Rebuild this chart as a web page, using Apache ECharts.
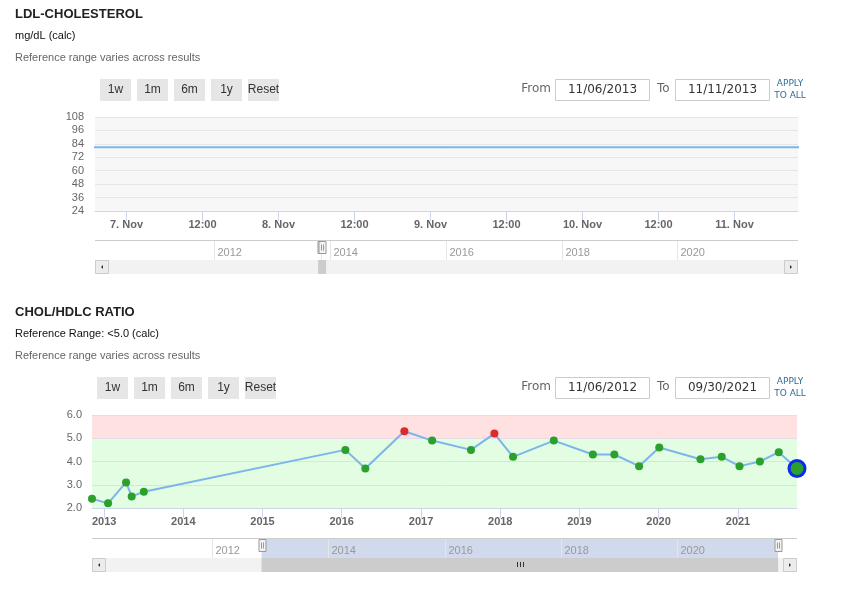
<!DOCTYPE html>
<html>
<head>
<meta charset="utf-8">
<script src="https://cdn.jsdelivr.net/npm/echarts@6/dist/echarts.min.js"></script>
<style>
html, body { margin: 0; padding: 0; background: #fff; }
#main { width: 841px; height: 590px; }
</style>
</head>
<body>
<div id="main"></div>
<script>
/* ---------------- data ---------------- */
// LDL-CHOLESTEROL
var ldlDates = ['2013-09-12', '2014-01-20'];
var ldlValues = [81, 81];
var ldlWindow = ['2013-11-06T19:10', '2013-11-11T10:06'];
var ldlTicks = ['2013-11-07T00:00', '2013-11-07T12:00', '2013-11-08T00:00', '2013-11-08T12:00',
  '2013-11-09T00:00', '2013-11-09T12:00', '2013-11-10T00:00', '2013-11-10T12:00', '2013-11-11T00:00'];
var ldlYRange = [24, 108];
var ldlYStep = 12;

// CHOL/HDLC RATIO
var ratioDates = ['2012-11-06', '2013-01-19', '2013-04-12', '2013-05-08', '2013-07-03',
  '2016-01-18', '2016-04-19', '2016-10-16', '2017-02-21', '2017-08-19', '2017-12-05',
  '2018-03-01', '2018-09-05', '2019-03-04', '2019-06-11', '2019-10-03', '2020-01-04',
  '2020-07-12', '2020-10-18', '2021-01-08', '2021-04-12', '2021-07-08', '2021-09-30'];
var ratioValues = [2.4, 2.2, 3.1, 2.5, 2.7,
  4.5, 3.7, 5.3, 4.9, 4.5, 5.2,
  4.2, 4.9, 4.3, 4.3, 3.8, 4.6,
  4.1, 4.2, 3.8, 4.0, 4.4, 3.7];
var ratioWindow = ['2012-11-06', '2021-09-30'];
var ratioYRange = [2, 6];
var ratioRefHigh = 5.0;

// navigator
var navYears = [2012, 2014, 2016, 2018, 2020];
var ldlNavRange = ['2009-12-12', '2022-01-31'];
var ratioNavRange = ['2009-12-05', '2022-01-27'];

var rangeButtons = ['1w', '1m', '6m', '1y', 'Reset'];
var monthNames = ['Jan', 'Feb', 'Mar', 'Apr', 'May', 'Jun', 'Jul', 'Aug', 'Sep', 'Oct', 'Nov', 'Dec'];
var noteText = 'Reference range varies across results';

/* ---------------- helpers ---------------- */
var SANS = '"Liberation Sans", Arial, sans-serif';
var DEJAVU = '"DejaVu Sans", sans-serif';

function utc(s) {
  return Date.parse(s.length > 10 ? s + ':00Z' : s + 'T00:00:00Z');
}
function pad(n) { return (n < 10 ? '0' : '') + n; }
function inputDate(s) {
  var d = new Date(utc(s));
  return pad(d.getUTCMonth() + 1) + '/' + pad(d.getUTCDate()) + '/' + d.getUTCFullYear();
}
function txt(x, y, text, font, fill, align) {
  return {
    type: 'text', x: x, y: y, silent: true,
    style: { text: text, font: font, fill: fill,
      textAlign: align || 'left', align: align || 'left',
      textVerticalAlign: 'middle', verticalAlign: 'middle' }
  };
}

// title, sub lines, range buttons and the from/to boxes
function header(dy, bx, title, sub, win) {
  var els = [
    txt(15, 14 + dy, title, 'bold 13px ' + SANS, '#222'),
    txt(15, 35.5 + dy, sub, '11px ' + SANS, '#111'),
    txt(15, 58 + dy, noteText, '11px ' + SANS, '#666')
  ];
  rangeButtons.forEach(function (b, i) {
    var x = bx + i * 37;
    els.push({ type: 'rect', silent: true, shape: { x: x, y: 79 + dy, width: 31, height: 22 }, style: { fill: '#e6e6e6' } });
    els.push(txt(x + 15.5, 90 + dy, b, '12px ' + SANS, '#333', 'center'));
  });
  els.push(txt(551, 89 + dy, 'From', '12px ' + DEJAVU, '#666', 'right'));
  els.push({ type: 'rect', silent: true, shape: { x: 555.5, y: 79.5 + dy, width: 94, height: 21 }, style: { fill: '#fff', stroke: '#cccccc', lineWidth: 1 } });
  els.push(txt(602.5, 90 + dy, inputDate(win[0]), '12px ' + DEJAVU, '#333', 'center'));
  els.push(txt(657, 89 + dy, 'To', '12px ' + DEJAVU, '#666', 'left'));
  els.push({ type: 'rect', silent: true, shape: { x: 675.5, y: 79.5 + dy, width: 94, height: 21 }, style: { fill: '#fff', stroke: '#cccccc', lineWidth: 1 } });
  els.push(txt(722.5, 90 + dy, inputDate(win[1]), '12px ' + DEJAVU, '#333', 'center'));
  els.push(txt(790, 84 + dy, 'APPLY', '9px ' + DEJAVU, '#2a6f99', 'center'));
  els.push(txt(790, 95.5 + dy, 'TO ALL', '9px ' + DEJAVU, '#2a6f99', 'center'));
  return els;
}

/* ---------------- LDL time ticks (12 h steps) ---------------- */
function ldlTickLabel(v) {
  var d = new Date(v);
  var h = d.getUTCHours();
  if (h === 0) return d.getUTCDate() + '. ' + monthNames[d.getUTCMonth()];
  return pad(h) + ':00';
}
function renderTick(params, api) {
  var cs = params.coordSys;
  var t = api.value(0);
  var x = Math.round(api.coord([t, ldlYRange[0]])[0]) + 0.5;
  var b = cs.y + cs.height;
  return { type: 'group', children: [
    { type: 'line', shape: { x1: x, y1: b, x2: x, y2: b + 10 }, style: { stroke: '#ccd6eb', lineWidth: 1 } },
    { type: 'text', x: x, y: b + 8, style: { text: ldlTickLabel(t), font: 'bold 11px ' + SANS, fill: '#666',
      textAlign: 'center', align: 'center', textVerticalAlign: 'top', verticalAlign: 'top' } }
  ] };
}

/* ---------------- navigator pieces (custom series) ---------------- */
function renderMask(params, api) {
  var cs = params.coordSys;
  var x0 = api.coord([api.value(0), 0])[0];
  var x1 = api.coord([api.value(1), 0])[0];
  return { type: 'rect', shape: { x: x0, y: cs.y, width: Math.max(x1 - x0, 0), height: cs.height },
    style: { fill: 'rgba(102,133,194,0.3)' } };
}
function renderYear(params, api) {
  var cs = params.coordSys;
  var t = api.value(0);
  var x = Math.round(api.coord([t, 0])[0]) + 0.5;
  return { type: 'group', children: [
    { type: 'line', shape: { x1: x, y1: cs.y, x2: x, y2: cs.y + cs.height }, style: { stroke: '#e6e6e6', lineWidth: 1 } },
    { type: 'text', x: x + 3, y: cs.y + 12.5, style: { text: String(new Date(t).getUTCFullYear()), font: '11px ' + SANS, fill: '#999',
      textVerticalAlign: 'middle', verticalAlign: 'middle' } }
  ] };
}
function handle(x, y) {
  x = Math.round(x) + 0.5;
  return { type: 'group', children: [
    { type: 'rect', shape: { x: x - 3.5, y: y, width: 7, height: 12 }, style: { fill: '#f2f2f2', stroke: '#999', lineWidth: 1 } },
    { type: 'line', shape: { x1: x - 1, y1: y + 3, x2: x - 1, y2: y + 9 }, style: { stroke: '#999', lineWidth: 1 } },
    { type: 'line', shape: { x1: x + 1, y1: y + 3, x2: x + 1, y2: y + 9 }, style: { stroke: '#999', lineWidth: 1 } }
  ] };
}
function renderControls(params, api) {
  var cs = params.coordSys;
  var x0 = api.coord([api.value(0), 0])[0];
  var x1 = api.coord([api.value(1), 0])[0];
  var sy = cs.y + cs.height;
  var right = cs.x + cs.width;
  var tw = Math.max(x1 - x0, 8);
  var tx = x1 - x0 < 8 ? x0 - 3 : x0;
  var cx = tx + tw / 2;
  var els = [
    { type: 'line', shape: { x1: cs.x, y1: cs.y + 0.5, x2: right, y2: cs.y + 0.5 }, style: { stroke: '#cccccc', lineWidth: 1 } },
    { type: 'rect', shape: { x: cs.x, y: sy, width: cs.width, height: 14 }, style: { fill: '#f2f2f2' } },
    { type: 'rect', shape: { x: tx, y: sy, width: tw, height: 14 }, style: { fill: '#cccccc' } },
    { type: 'rect', shape: { x: cs.x + 0.5, y: sy + 0.5, width: 13, height: 13 }, style: { fill: '#ececec', stroke: '#cccccc', lineWidth: 1 } },
    { type: 'rect', shape: { x: right - 13.5, y: sy + 0.5, width: 13, height: 13 }, style: { fill: '#ececec', stroke: '#cccccc', lineWidth: 1 } },
    { type: 'polygon', shape: { points: [[cs.x + 8, sy + 5], [cs.x + 8, sy + 9], [cs.x + 6, sy + 7]] }, style: { fill: '#333' } },
    { type: 'polygon', shape: { points: [[right - 8, sy + 5], [right - 8, sy + 9], [right - 6, sy + 7]] }, style: { fill: '#333' } }
  ];
  if (tw > 20) {
    [-3, 0, 3].forEach(function (o) {
      var gx = Math.round(cx + o) + 0.5;
      els.push({ type: 'line', shape: { x1: gx, y1: sy + 4, x2: gx, y2: sy + 9 }, style: { stroke: '#333', lineWidth: 1 } });
    });
  }
  els.push(handle(x0, cs.y + 1.5));
  els.push(handle(x1, cs.y + 1.5));
  return { type: 'group', children: els };
}
function navSeries(gridIdx, win) {
  var range = [[utc(win[0]), utc(win[1])]];
  return [
    { type: 'custom', silent: true, xAxisIndex: gridIdx, yAxisIndex: gridIdx, z: 1, renderItem: renderMask, data: range },
    { type: 'custom', silent: true, xAxisIndex: gridIdx, yAxisIndex: gridIdx, z: 2, renderItem: renderYear,
      data: navYears.map(function (y) { return [utc(y + '-01-01'), 0]; }) },
    { type: 'custom', silent: true, xAxisIndex: gridIdx, yAxisIndex: gridIdx, z: 3, renderItem: renderControls, data: range }
  ];
}

/* ---------------- chart ---------------- */
var chart = echarts.init(document.getElementById('main'));

var ldlData = ldlDates.map(function (d, i) { return [utc(d), ldlValues[i]]; });
var ratioData = ratioDates.map(function (d, i) {
  var item = { value: [utc(d), ratioValues[i]] };
  if (i === ratioDates.length - 1) {
    item.symbolSize = 16;
    item.itemStyle = { color: '#2ca02c', borderColor: '#0a2cf0', borderWidth: 3 };
  }
  return item;
});

var option = {
  animation: false,
  useUTC: true,
  textStyle: { fontFamily: SANS },
  graphic: { elements: header(0, 100, 'LDL-CHOLESTEROL', 'mg/dL (calc)', ldlWindow)
    .concat(header(298, 97, 'CHOL/HDLC RATIO', 'Reference Range: <' + ratioRefHigh.toFixed(1) + ' (calc)', ratioWindow)) },
  grid: [
    { left: 95, top: 117, width: 703, height: 94, show: true, backgroundColor: '#f7f7f7', borderWidth: 0 },
    { left: 95, top: 240, width: 703, height: 20 },
    { left: 92, top: 415, width: 705, height: 93 },
    { left: 92, top: 538, width: 705, height: 20 }
  ],
  xAxis: [
    { type: 'time', gridIndex: 0, min: utc(ldlWindow[0]), max: utc(ldlWindow[1]),
      axisLine: { lineStyle: { color: '#ccd6eb' } },
      axisTick: { show: false }, axisLabel: { show: false }, splitLine: { show: false } },
    { type: 'time', gridIndex: 1, min: utc(ldlNavRange[0]), max: utc(ldlNavRange[1]), show: false },
    { type: 'time', gridIndex: 2, min: utc(ratioWindow[0]), max: utc(ratioWindow[1]), z: 1,
      axisLine: { lineStyle: { color: '#ccd6eb' } },
      axisTick: { length: 10, lineStyle: { color: '#ccd6eb' } },
      axisLabel: { margin: 8, formatter: '{yyyy}', color: '#666', fontSize: 11, fontWeight: 'bold', fontFamily: SANS,
        showMinLabel: false, showMaxLabel: false },
      splitLine: { show: false } },
    { type: 'time', gridIndex: 3, min: utc(ratioNavRange[0]), max: utc(ratioNavRange[1]), show: false }
  ],
  yAxis: [
    { type: 'value', gridIndex: 0, min: ldlYRange[0], max: ldlYRange[1], interval: ldlYStep,
      axisLine: { show: false }, axisTick: { show: false },
      axisLabel: { color: '#666', fontSize: 11, margin: 11 },
      splitLine: { lineStyle: { color: '#e6e6e6' } } },
    { type: 'value', gridIndex: 1, min: 0, max: 1, show: false },
    { type: 'value', gridIndex: 2, min: ratioYRange[0], max: ratioYRange[1], interval: 1, z: 1,
      axisLine: { show: false }, axisTick: { show: false },
      axisLabel: { color: '#666', fontSize: 11, margin: 10, formatter: function (v) { return v.toFixed(1); } },
      splitLine: { lineStyle: { color: '#e4dce6' } } },
    { type: 'value', gridIndex: 3, min: 0, max: 1, show: false }
  ],
  series: [
    { name: 'LDL', type: 'line', xAxisIndex: 0, yAxisIndex: 0, data: ldlData,
      symbol: 'none', lineStyle: { color: '#7cb5ec', width: 2 } },
    { name: 'ldlTicks', type: 'custom', xAxisIndex: 0, yAxisIndex: 0, silent: true, z: 4,
      renderItem: renderTick, data: ldlTicks.map(function (t) { return [utc(t), ldlYRange[0]]; }) },
    { name: 'bands', type: 'line', xAxisIndex: 2, yAxisIndex: 2, data: [], z: 0, silent: true,
      markArea: { silent: true, z: 0, data: [
        [{ yAxis: ratioRefHigh, itemStyle: { color: '#ffe1e1' } }, { yAxis: ratioYRange[1] }],
        [{ yAxis: ratioYRange[0], itemStyle: { color: '#e2fde2' } }, { yAxis: ratioRefHigh }]
      ] } },
    { name: 'CHOL/HDLC', type: 'line', xAxisIndex: 2, yAxisIndex: 2, data: ratioData, z: 3,
      symbol: 'circle', symbolSize: 8, showAllSymbol: true,
      lineStyle: { color: '#7cb5ec', width: 2 },
      itemStyle: { color: function (p) { return p.value[1] > ratioRefHigh ? '#dd2a2a' : '#2ca02c'; } } }
  ].concat(navSeries(1, ldlWindow)).concat(navSeries(3, ratioWindow))
};

chart.setOption(option);
</script>
</body>
</html>
